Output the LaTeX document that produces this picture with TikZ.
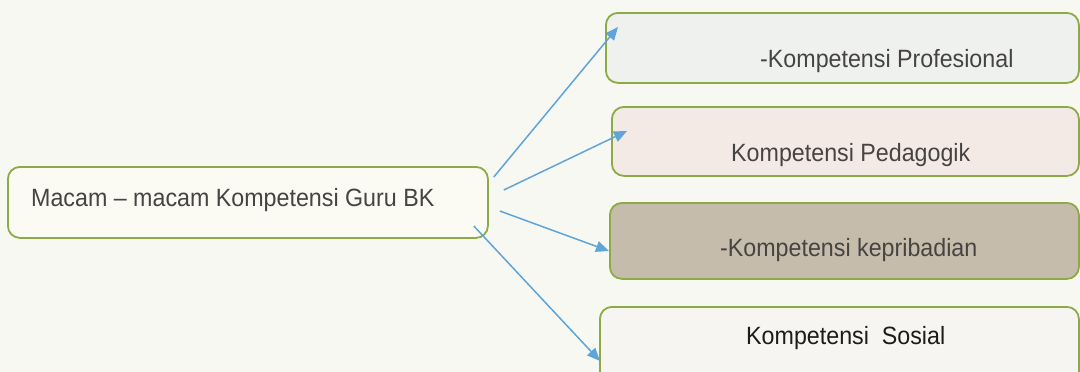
\documentclass[tikz,border=0pt]{standalone}
\usepackage{fontspec}
\setmainfont{Liberation Sans}[FakeStretch=0.93]
\usetikzlibrary{arrows.meta}
\definecolor{bgc}{RGB}{248,248,243}
\definecolor{edgec}{RGB}{140,170,70}
\definecolor{arrc}{RGB}{95,165,215}
\definecolor{txtc}{RGB}{70,68,66}
\definecolor{txtd}{RGB}{28,28,28}
\definecolor{fmain}{RGB}{251,251,244}
\definecolor{fone}{RGB}{239,241,238}
\definecolor{ftwo}{RGB}{244,234,229}
\definecolor{fthree}{RGB}{198,188,172}
\definecolor{ffour}{RGB}{246,245,241}
\tikzset{
  boxc/.style={draw=edgec, line width=1.8pt, rounded corners=12pt, inner sep=0pt, anchor=north west},
  lbl/.style={inner sep=0pt, anchor=base west, text=txtc, font=\fontsize{25}{30}\selectfont},
  arr/.style={draw=arrc, line width=1.5pt, -{Triangle[length=13pt,width=11pt]}}
}
\begin{document}
\begin{tikzpicture}[x=1pt,y=-1pt]
\useasboundingbox (0,0) rectangle (1080,372);
\fill[bgc] (0,0) rectangle (1080,372);
\clip (0,0) rectangle (1080,372);
% boxes
\node[boxc, fill=fmain, minimum width=480pt, minimum height=71pt] (main) at (7,166) {};
\node[boxc, fill=fone, minimum width=473pt, minimum height=70pt] (p1) at (605,12) {};
\node[boxc, fill=ftwo, minimum width=467pt, minimum height=69pt] (p2) at (611,106) {};
\node[boxc, fill=fthree, minimum width=469pt, minimum height=76pt] (p3) at (609,202) {};
\node[boxc, fill=ffour, minimum width=479pt, minimum height=84pt] (p4) at (599,306) {};
% texts
\node[lbl] (tmain) at (31,206) {Macam – macam Kompetensi Guru BK};
\node[lbl] (t1) at (760,67) {-Kompetensi Profesional};
\node[lbl] (t2) at (731,161) {Kompetensi Pedagogik};
\node[lbl] (t3) at (720,256) {-Kompetensi kepribadian};
\node[lbl, text=txtd] (t4) at (746,344) {Kompetensi\ \ Sosial};
% connectors
\draw[arr] ([shift={(5,11)}]main.north east) -- ([shift={(13,15)}]p1.north west);
\draw[arr] ([shift={(15,24)}]main.north east) -- ([shift={(16,25)}]p2.north west);
\draw[arr] ([shift={(11,45)}]main.north east) -- ([shift={(0,49)}]p3.north west);
\draw[arr] ([shift={(-15,60)}]main.north east) -- ([shift={(1,55)}]p4.north west);
\end{tikzpicture}
\end{document}
